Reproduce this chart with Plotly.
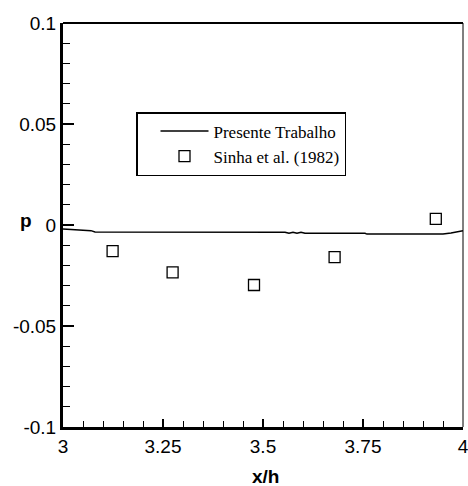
import plotly.graph_objects as go

# Simulation curve (Presente Trabalho)
curve_x = [3.0, 3.02, 3.04, 3.07, 3.08, 3.2, 3.35, 3.5, 3.555, 3.565, 3.575, 3.585,
           3.595, 3.605, 3.615, 3.7, 3.755, 3.76, 3.85, 3.95, 3.97, 3.99, 4.0]
curve_y = [-0.0020, -0.0022, -0.0026, -0.0028, -0.0035, -0.0035, -0.0036, -0.0036,
           -0.0036, -0.0041, -0.0036, -0.0041, -0.0036, -0.0041, -0.0041, -0.0041,
           -0.0041, -0.0045, -0.0045, -0.0045, -0.0040, -0.0033, -0.0028]

# Experimental data (Sinha et al. 1982)
exp_x = [3.124, 3.274, 3.4775, 3.679, 3.932]
exp_y = [-0.0129, -0.0235, -0.0297, -0.0159, 0.0030]

x_tickvals = [3, 3.25, 3.5, 3.75, 4]
x_ticktext = ["3", "3.25", "3.5", "3.75", "4"]
y_tickvals = [-0.1, -0.05, 0, 0.05, 0.1]
y_ticktext = ["-0.1", "-0.05", "0", "0.05", "0.1"]

fig = go.Figure()
fig.add_trace(go.Scatter(x=curve_x, y=curve_y, mode="lines",
                         name="Presente Trabalho",
                         line=dict(color="black", width=1.5)))
fig.add_trace(go.Scatter(x=exp_x, y=exp_y, mode="markers",
                         name="Sinha et al. (1982)",
                         marker=dict(symbol="square-open", size=11,
                                     color="black", line=dict(width=1.3))))

tickfont = dict(family="Liberation Sans, Arial, sans-serif", size=19, color="black")

fig.update_xaxes(range=[3, 4], tickvals=x_tickvals, ticktext=x_ticktext,
                 ticks="inside", ticklen=8, tickwidth=1.5, tickcolor="black",
                 minor=dict(dtick=0.05, tick0=3, ticks="inside", ticklen=6,
                            tickwidth=1, tickcolor="black"),
                 showline=True, linewidth=3, linecolor="black", automargin=False,
                 ticklabeloverflow="allow",
                 showgrid=False, zeroline=False, tickfont=tickfont)
fig.update_yaxes(range=[-0.1, 0.1], tickvals=y_tickvals, ticktext=y_ticktext,
                 ticks="inside", ticklen=11, tickwidth=2, tickcolor="black",
                 minor=dict(dtick=0.01, tick0=0, ticks="inside", ticklen=7,
                            tickwidth=1, tickcolor="black"),
                 showline=True, linewidth=3, linecolor="black", automargin=False,
                 ticklabeloverflow="allow",
                 showgrid=False, zeroline=False, tickfont=tickfont)

# top and right frame lines
fig.add_shape(type="line", xref="paper", yref="paper", x0=0, x1=1, y0=1, y1=1,
              line=dict(color="black", width=2))
fig.add_shape(type="line", xref="paper", yref="paper", x0=1, x1=1, y0=0, y1=1,
              line=dict(color="black", width=1))

fig.add_annotation(text="<b>p</b>", xref="paper", yref="paper",
                   x=-0.1125, y=0.51, showarrow=False,
                   font=dict(family="Liberation Sans, Arial, sans-serif", size=19, color="black"))
fig.add_annotation(text="<b>x/h</b>", xref="paper", yref="paper",
                   x=0.505, y=-0.122, showarrow=False, yanchor="middle",
                   font=dict(family="Liberation Sans, Arial, sans-serif", size=19, color="black"))

fig.update_layout(
    width=468, height=486,
    margin=dict(l=63, r=5, t=23, b=59, autoexpand=False),
    paper_bgcolor="white", plot_bgcolor="white",
    showlegend=True,
    legend=dict(x=0.1825, y=0.7797, xanchor="left", yanchor="top",
                bgcolor="white", bordercolor="black", borderwidth=1.5,
                font=dict(family="Liberation Serif, Times New Roman, serif", size=17, color="black"),
                itemwidth=48, indentation=18),
)

fig.write_html("out.html", config={"displayModeBar": False},
               post_script="document.body.style.margin='0';document.body.style.overflow='hidden';")
